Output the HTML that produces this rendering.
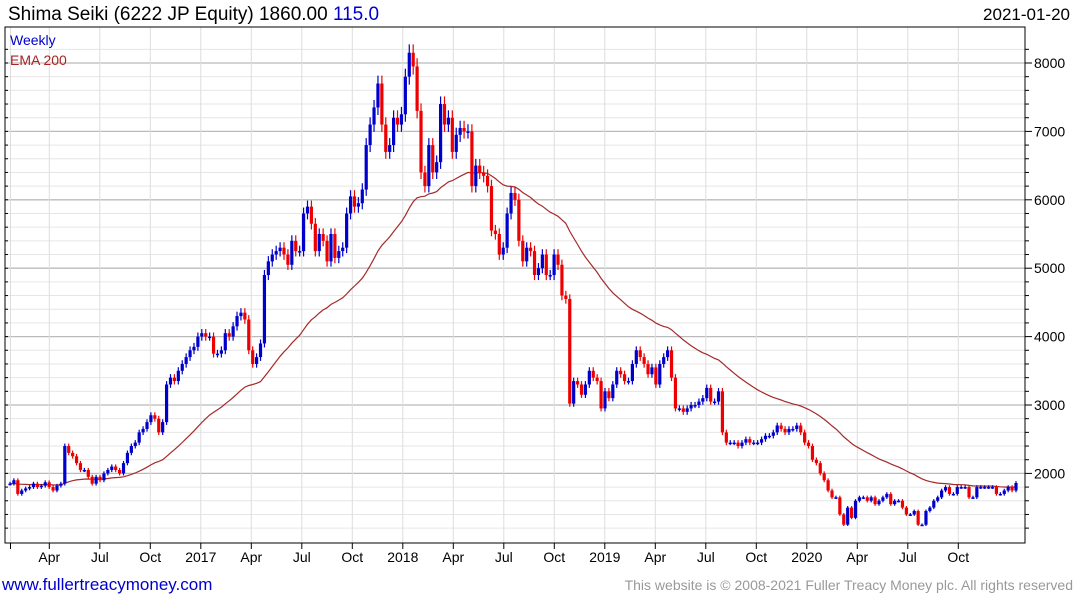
<!DOCTYPE html>
<html><head><meta charset="utf-8"><style>
body{margin:0;background:#fff;font-family:"Liberation Sans",sans-serif;}
svg text{font-family:"Liberation Sans",sans-serif;}
</style></head><body>
<svg id="chart" width="1075" height="600" xmlns="http://www.w3.org/2000/svg">
<text x="8" y="20" font-size="19" fill="#000">Shima Seiki (6222 JP Equity) 1860.00 <tspan fill="#0000cc">115.0</tspan></text>
<text x="1070" y="20" font-size="17" fill="#000" text-anchor="end">2021-01-20</text>
<g id="grid"></g>
<g id="marks"></g>
<rect x="5" y="27" width="1020" height="516" fill="none" stroke="#000" stroke-width="1"/>
<text x="10" y="45" font-size="14" fill="#0000cc">Weekly</text>
<text x="10" y="65" font-size="14" fill="#aa2222">EMA 200</text>
<text x="2" y="590" font-size="17" fill="#0000cc">www.fullertreacymoney.com</text>
<text x="1073" y="590" font-size="14" fill="#999" text-anchor="end">This website is © 2008-2021 Fuller Treacy Money plc. All rights reserved</text>
</svg>
<script>
const closes=[1850,1900,1700,1750,1780,1800,1850,1800,1820,1870,1800,1750,1820,
1850,2400,2300,2250,2150,2050,2050,1950,1850,1950,
1900,2000,2050,2100,2050,2000,2150,2300,2400,2450,2600,2650,2750,
2850,2800,2600,2750,3300,3400,3350,3500,3600,3700,3800,3850,4000,
4050,4000,4000,3750,3750,3800,4050,4000,4150,4300,4350,4250,
3800,3600,3700,3900,4900,5100,5200,5250,5300,5200,5050,5400,5250,
5250,5800,5900,5650,5250,5500,5400,5100,5500,5150,5250,5300,5800,
6050,5900,5950,6150,6800,7100,7350,7700,7100,6700,6800,7200,7100,
7250,7800,8150,7950,7300,6400,6200,6800,6400,6550,7400,7100,7200,
6700,6950,7050,7000,7000,6200,6500,6400,6350,6200,5550,5500,5200,
5300,5800,6100,6000,5400,5100,5300,5250,4900,5000,5200,4900,4900,
5200,5050,4600,4550,3020,3350,3300,3150,3300,3500,3400,3350,2950,
3200,3100,3300,3500,3450,3350,3350,3600,3800,3700,3600,3450,3550,
3300,3600,3700,3800,3400,2950,2950,2900,2950,3000,3000,3050,3100,
3250,3050,3050,3200,2600,2450,2450,2450,2400,2450,2500,2450,2450,
2450,2500,2550,2550,2600,2700,2650,2600,2650,2650,2700,2600,2450,
2400,2200,2150,2000,1900,1750,1650,1650,1400,1250,1500,1350,1600,
1650,1650,1600,1650,1550,1600,1650,1700,1550,1600,1600,1500,1400,
1400,1450,1250,1250,1450,1500,1600,1650,1750,1800,1700,1700,1800,
1800,1800,1650,1650,1800,1800,1800,1800,1800,1700,1700,1750,1800,1750,1860];
const yTicks=[2000,3000,4000,5000,6000,7000,8000];
const xLabels=["Apr","Jul","Oct","2017","Apr","Jul","Oct","2018","Apr","Jul","Oct","2019","Apr","Jul","Oct","2020","Apr","Jul","Oct"];
const emaSeed=1850;
const emaPeriod=44;

const NS="http://www.w3.org/2000/svg";
const y=v=>63+(8000-v)*0.0684;
const x=i=>10+i*(1016-10)/(closes.length-1);
const xq=q=>49.3+q*50.5;
function mk(tag,attrs,parent){const e=document.createElementNS(NS,tag);for(const k in attrs)e.setAttribute(k,attrs[k]);parent.appendChild(e);return e;}
const grid=document.getElementById('grid'),marks=document.getElementById('marks'),svg=document.getElementById('chart');
for(let v=1200;v<=8200;v+=200){
  const major=v%1000===0;
  const l=mk('line',{x1:5,x2:1025,y1:y(v),y2:y(v),stroke:major?'#bbb':'#e6e6e6','stroke-width':major?1.3:1},grid);
  
  
  const t=mk('line',{x1:1025,x2:major?1032:1029,y1:y(v),y2:y(v),stroke:'#000'},grid);
  
  
  const t2=mk('line',{x1:5,x2:8,y1:y(v),y2:y(v),stroke:'#000'},grid);
  
  
}
yTicks.forEach(v=>{const t=mk('text',{x:1034,y:y(v)+5,'font-size':14,fill:'#000'},svg);t.textContent=v;
  
  });
const gxs=[10.5];
xLabels.forEach((s,q)=>gxs.push(xq(q)));
gxs.forEach(gx=>{
  const l=mk('line',{x1:gx,x2:gx,y1:27,y2:543,stroke:'#ddd'},grid);
  
  
  const t=mk('line',{x1:gx,x2:gx,y1:543,y2:549,stroke:'#000'},grid);
  
  
});
xLabels.forEach((s,q)=>{const t=mk('text',{x:xq(q),y:562,'font-size':14,fill:'#000','text-anchor':'middle'},svg);t.textContent=s;
  
  });
// EMA
let e=emaSeed,pts=[];const a=2/(emaPeriod+1);
closes.forEach((c,i)=>{e=e+a*(c-e);pts.push(x(i).toFixed(1)+','+y(e).toFixed(1));});
const emaLine=mk('polyline',{points:pts.join(' '),fill:'none',stroke:'#a52a2a','stroke-width':1.2},marks);


// candles
closes.forEach((c,i)=>{
  const o=i?closes[i-1]:c;const up=c>=o;const col=up?'#0000cc':'#ee0000';
  const hi=Math.max(o,c)*1.015,lo=Math.min(o,c)*0.985;const cx=x(i);
  const w=mk('line',{x1:cx,x2:cx,y1:y(hi),y2:y(lo),stroke:col,'stroke-width':1.2},marks);
  
  
  const top=y(Math.max(o,c)),bot=y(Math.min(o,c));
  const b=mk('rect',{x:cx-1.6,y:top,width:3.2,height:Math.max(1.5,bot-top),fill:col},marks);
  
  
});
</script>
</body></html>
